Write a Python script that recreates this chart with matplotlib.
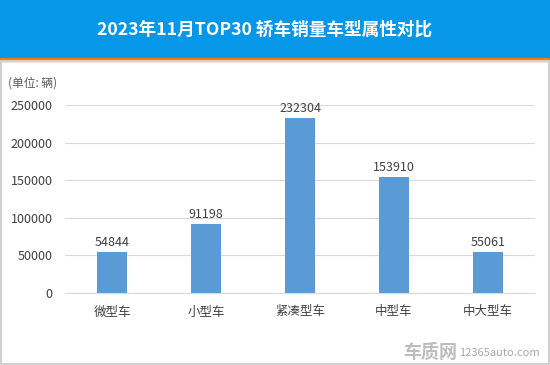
import matplotlib.pyplot as plt
from matplotlib.patches import Rectangle

plt.rcParams['font.family'] = ['Noto Sans CJK SC', 'DejaVu Sans']

# data
categories = ['微型车', '小型车', '紧凑型车', '中型车', '中大型车']
sales = [54844, 91198, 232304, 153910, 55061]
yticks = [0, 50000, 100000, 150000, 200000, 250000]

title = '2023年11月TOP30 轿车销量车型属性对比'

fig = plt.figure(figsize=(5.5, 3.65), dpi=100)
W, H = 550, 365

# header band + orange rule
fig.patches.append(Rectangle((0, 1 - 58 / H), 1, 58 / H, transform=fig.transFigure,
                             color='#0797E8', zorder=0))
fig.patches.append(Rectangle((0, 1 - 61 / H), 1, 3 / H, transform=fig.transFigure,
                             color='#F07D00', zorder=0))
# grey frame around the white area
fig.patches.append(Rectangle((1 / W, 1 / H), 1 - 2 / W, 1 - 62 / H, transform=fig.transFigure,
                             fill=False, edgecolor='#D0D0D0', lw=1.5, zorder=0))
fig.text(265 / W, 1 - 30 / H, title, ha='center', va='center', color='white',
         fontsize=12.7, fontweight='bold')

ax = fig.add_axes([65 / W, 72 / H, 470 / W, 188 / H])
x = range(len(categories))
bars = ax.bar(x, sales, width=0.32, color='#5B9BD5', zorder=2)
for xi, v in zip(x, sales):
    ax.text(xi, v + 4000, str(v), ha='center', va='bottom', fontsize=9, color='#404040')

ax.set_xlim(-0.5, len(categories) - 0.5)
ax.set_ylim(0, 250000)
ax.set_yticks(yticks)
ax.set_yticklabels([str(t) for t in yticks], fontsize=9, color='#404040')
ax.set_xticks(list(x))
ax.set_xticklabels(categories, fontsize=9, color='#404040')
ax.tick_params(length=0, pad=9)
ax.grid(axis='y', color='#D9D9D9', lw=0.8, zorder=0)
for s in ['top', 'right', 'left']:
    ax.spines[s].set_visible(False)
ax.spines['bottom'].set_color('#D9D9D9')

fig.text(8 / W, 1 - 83 / H, '(单位: 辆)', fontsize=8.5, color='#595959', va='center')

# watermark
fig.text(457 / W, 13 / H, '车质网', fontsize=13, color='#BDBDBD', fontweight='bold',
         ha='right', va='center')
fig.text(459 / W, 12 / H, '12365auto.com', fontsize=8, color='#A8A8A8', ha='left', va='center')

fig.savefig('out.png', dpi=100)
